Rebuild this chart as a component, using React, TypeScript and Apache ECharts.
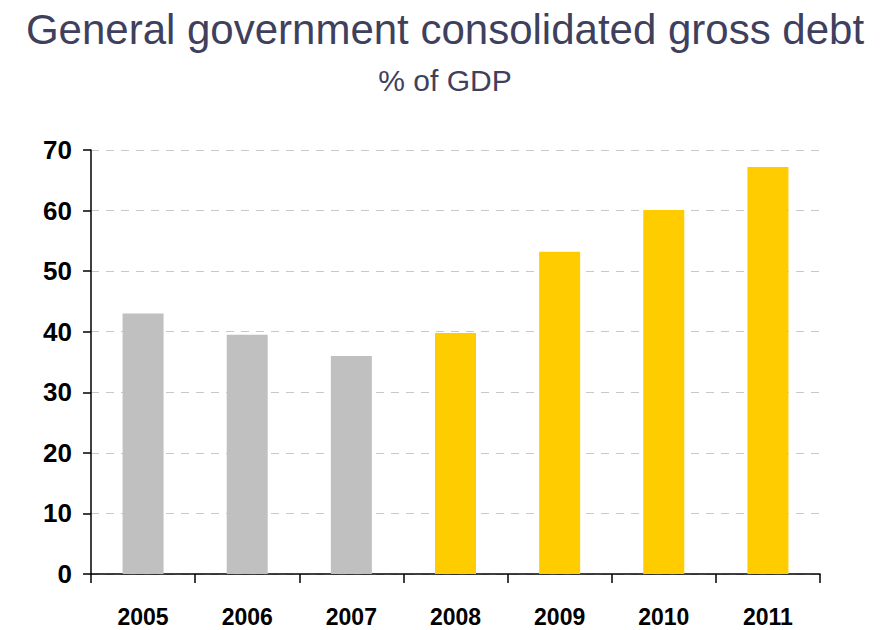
import React, { useEffect, useRef } from "react";
import * as echarts from "echarts";

const years = ["2005", "2006", "2007", "2008", "2009", "2010", "2011"];
const debtValues = [43.0, 39.5, 36.0, 39.8, 53.2, 60.1, 67.2];
const barColors = ["#c0c0c0", "#c0c0c0", "#c0c0c0", "#ffcc00", "#ffcc00", "#ffcc00", "#ffcc00"];

export default function App() {
  const ref = useRef<HTMLDivElement>(null);
  useEffect(() => {
    if (!ref.current) return;
    const chart = echarts.init(ref.current, null, { renderer: "svg" });
    chart.setOption({
      animation: false,
      backgroundColor: "#ffffff",
      title: [
        {
          text: "General government consolidated gross debt",
          left: "center",
          top: 3,
          textStyle: { fontFamily: "Liberation Sans, Arial, sans-serif", fontSize: 42, fontWeight: "normal", color: "#3f3f5e" },
        },
        {
          text: "% of GDP",
          left: "center",
          top: 60,
          textStyle: { fontFamily: "Liberation Sans, Arial, sans-serif", fontSize: 30, fontWeight: "normal", color: "#3f3f5e" },
        },
      ],
      grid: { left: 91, right: 70, top: 150, bottom: 56, containLabel: false },
      xAxis: {
        type: "category",
        data: years,
        boundaryGap: true,
        axisLine: { show: true, lineStyle: { color: "#000", width: 1.5 } },
        axisTick: { show: true, alignWithLabel: false, length: 9, lineStyle: { color: "#000", width: 1.5 } },
        axisLabel: { margin: 31, fontFamily: "Liberation Sans, Arial, sans-serif", fontSize: 23, fontWeight: "bold", color: "#000" },
        splitLine: { show: false },
      },
      yAxis: {
        type: "value",
        min: 0,
        max: 70,
        interval: 10,
        axisLine: { show: true, lineStyle: { color: "#000", width: 1.5 } },
        axisTick: { show: true, length: 8, lineStyle: { color: "#000", width: 1.5 } },
        axisLabel: { margin: 19, fontFamily: "Liberation Sans, Arial, sans-serif", fontSize: 26, fontWeight: "bold", color: "#000" },
        splitLine: { show: true, lineStyle: { color: "#c8c8c8", type: [8, 7], width: 1 } },
      },
      series: [
        {
          type: "bar",
          barWidth: 41,
          data: debtValues.map((v, i) => ({ value: v, itemStyle: { color: barColors[i] } })),
        },
      ],
    });
    return () => chart.dispose();
  }, []);
  return <div ref={ref} style={{ width: 890, height: 630, position: "absolute", left: 0, top: 0 }} />;
}
